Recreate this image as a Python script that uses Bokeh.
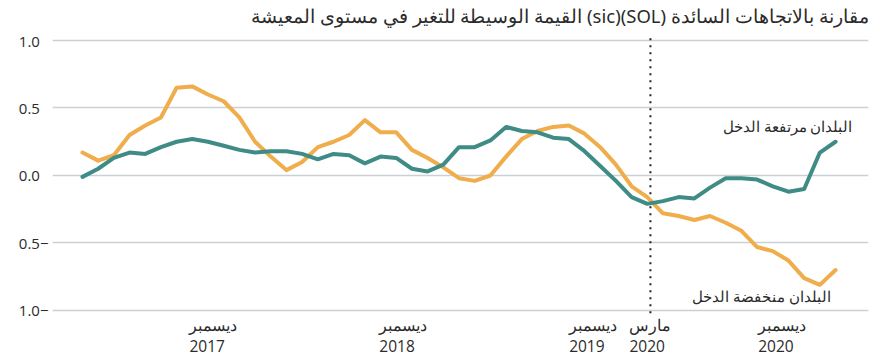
from bokeh.plotting import figure
from bokeh.models import Range1d, FixedTicker, Label, LabelSet, ColumnDataSource
from bokeh.core.properties import value
from bokeh.embed import file_html
from bokeh.resources import INLINE

# ---- data (monthly, Apr 2017 .. Apr 2021) ----
months_idx = list(range(49))
high_income = [-0.01, 0.05, 0.13, 0.17, 0.16, 0.21, 0.25, 0.27, 0.25, 0.22, 0.19, 0.17,
               0.18, 0.18, 0.16, 0.12, 0.16, 0.15, 0.09, 0.14, 0.13, 0.05, 0.03, 0.08,
               0.21, 0.21, 0.26, 0.36, 0.33, 0.32, 0.28, 0.27, 0.18, 0.07, -0.04, -0.16,
               -0.21, -0.19, -0.16, -0.17, -0.09, -0.02, -0.02, -0.03, -0.08, -0.12, -0.10,
               0.17, 0.25]
low_income = [0.17, 0.11, 0.15, 0.30, 0.37, 0.43, 0.65, 0.66, 0.60, 0.55, 0.43, 0.25,
              0.14, 0.04, 0.10, 0.21, 0.25, 0.30, 0.41, 0.32, 0.32, 0.19, 0.13, 0.06,
              -0.02, -0.04, 0.00, 0.14, 0.27, 0.33, 0.36, 0.37, 0.31, 0.21, 0.08, -0.08,
              -0.16, -0.28, -0.30, -0.33, -0.30, -0.35, -0.41, -0.53, -0.56, -0.63, -0.76,
              -0.81, -0.70]

x_tick_pos = [8.35, 20.45, 32.55, 36.2, 44.6]
x_tick_month = ["ديسمبر", "ديسمبر", "ديسمبر", "مارس", "ديسمبر"]
x_tick_year = ["2017", "2018", "2019", "2020", "2020"]
y_ticks = [1.0, 0.5, 0.0, -0.5, -1.0]
y_tick_labels = ["1.0\u2007", "0.5\u2007", "0.0\u2007", "0.5−", "1.0−"]
marker_x = 36.2

title_text = "القيمة الوسيطة للتغير في مستوى المعيشة (sic)(SOL) مقارنة بالاتجاهات السائدة"
label_high = "البلدان مرتفعة الدخل"
label_low = "البلدان منخفضة الدخل"

TEAL = "#3f8c87"
ORANGE = "#f0ad4b"
GRID = "#c9d0d6"
TXT = "#2b2b2b"

X0, X1 = -1.91, 50.1
V_MIN, V_MAX = -1.03, 1.03          # extent of the data panel
Y0, Y1 = -1.3704, 1.2963            # full canvas height (room for title and x labels)

p = figure(width=880, height=360, output_backend="svg", toolbar_location=None,
           x_range=Range1d(X0, X1), y_range=Range1d(Y0, Y1),
           min_border_left=52, min_border_right=12, min_border_top=0, min_border_bottom=0)
p.outline_line_color = None
p.background_fill_color = "white"

# y axis
p.yaxis.ticker = FixedTicker(ticks=y_ticks)
p.yaxis.major_label_overrides = {y: l for y, l in zip(y_ticks, y_tick_labels)}
p.yaxis.axis_line_color = None
p.yaxis.major_tick_line_color = None
p.yaxis.minor_tick_line_color = None
p.yaxis.major_tick_out = 0
p.yaxis.major_tick_in = 0
p.yaxis.minor_tick_out = 0
p.yaxis.major_label_text_font = "Open Sans"
p.yaxis.major_label_text_font_size = "15px"
p.yaxis.major_label_text_color = TXT
p.yaxis.major_label_standoff = 4

# x axis: positions only, labels drawn as two-line annotations below the data panel
p.xaxis.visible = False
p.xgrid.grid_line_color = None
p.ygrid.ticker = FixedTicker(ticks=y_ticks)
p.ygrid.grid_line_color = GRID
p.ygrid.grid_line_width = 1.5

xsrc = ColumnDataSource(dict(x=x_tick_pos,
                             y=[V_MIN + 0.007] * len(x_tick_pos),
                             t=[m + "\n" + yr for m, yr in zip(x_tick_month, x_tick_year)]))
p.add_layout(LabelSet(x="x", y="y", text="t", source=xsrc, text_align="center",
                      text_baseline="top", text_font=value("Open Sans"),
                      text_font_size="15.5px", text_line_height=0.97, text_color=TXT))

# dotted marker line (March 2020)
p.segment(x0=[marker_x], y0=[V_MIN + 0.01], x1=[marker_x], y1=[V_MAX],
          line_color="#222222", line_width=2, line_dash="2 5")

p.line(months_idx, low_income, line_color=ORANGE, line_width=4,
       line_join="round", line_cap="round")
p.line(months_idx, high_income, line_color=TEAL, line_width=4,
       line_join="round", line_cap="round")

p.add_layout(Label(x=49.08, y=0.37, text=label_high, text_align="right",
                   text_baseline="middle", text_font_size="15px", text_color=TXT,
                   text_font="Noto Sans"))
p.add_layout(Label(x=47.7, y=-0.889, text=label_low, text_align="right",
                   text_baseline="middle", text_font_size="15px", text_color=TXT,
                   text_font="Noto Sans"))

# title, right-aligned with the plot's right edge
p.add_layout(Label(x=X1, y=1.185, text=title_text, text_align="right",
                   text_baseline="middle", text_font_size="18.5px", text_color=TXT,
                   text_font="Noto Sans"))

open("out.html", "w").write(file_html(p, INLINE))
